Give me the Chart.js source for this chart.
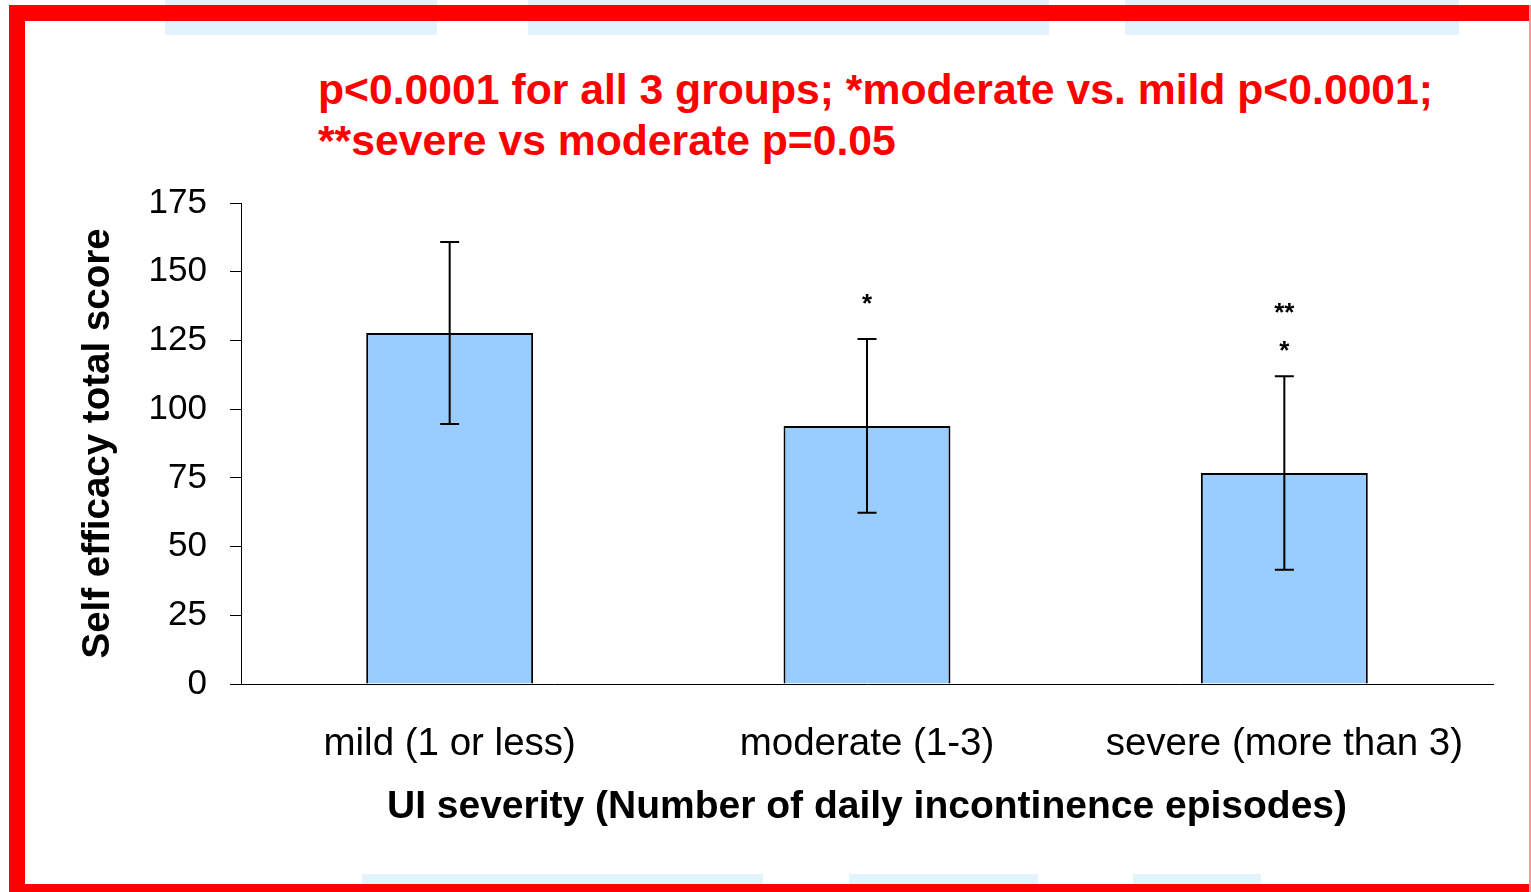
<!DOCTYPE html>
<html>
<head>
<meta charset="utf-8">
<script src="https://cdn.jsdelivr.net/npm/chart.js@4"></script>
<style>
  html, body { margin: 0; padding: 0; background: #fff; overflow: hidden; }
  body { width: 1531px; height: 892px; position: relative; }
  .deco { position: absolute; background: #e2f3fb; z-index: 0; }
  .frame { position: absolute; left: 9px; top: 5px; width: 1600px; height: 895px;
           box-sizing: border-box; border: 16px solid #ff0000; z-index: 1; }
  .edge { position: absolute; left: 1529px; top: 5px; width: 2px; height: 887px; background: #ff9999; z-index: 1; }
  .note { position: absolute; left: 318px; top: 64px; z-index: 2; color: #ff0000;
          font: bold 42.7px "Liberation Sans", Arial, sans-serif; line-height: 51px; white-space: nowrap; }
  #wrap { position: absolute; left: 0; top: 0; width: 1531px; height: 892px; z-index: 3; }
</style>
</head>
<body>
<div class="deco" style="left:165px;top:0;width:272px;height:35px;"></div>
<div class="deco" style="left:528px;top:0;width:521px;height:35px;"></div>
<div class="deco" style="left:1125px;top:0;width:334px;height:35px;"></div>
<div class="deco" style="left:362px;top:874px;width:401px;height:11px;"></div>
<div class="deco" style="left:849px;top:874px;width:189px;height:11px;"></div>
<div class="deco" style="left:1133px;top:874px;width:128px;height:11px;"></div>
<div class="frame"></div>
<div class="edge"></div>
<div class="note">p&lt;0.0001 for all 3 groups; *moderate vs. mild p&lt;0.0001;<br>**severe vs moderate p=0.05</div>
<div id="wrap"><canvas id="myChart" width="1531" height="892"></canvas></div>
<script>
const categories = ['mild (1 or less)', 'moderate (1-3)', 'severe (more than 3)'];
const meanScores = [127.7, 93.9, 76.8];
const sdScores = [33.1, 31.6, 35.2];
const yMin = 0, yMax = 175, yStep = 25;

// significance marks above the bars
const starText = ['*', '*', '**'];
const starGroup = [1, 2, 2];
const starValue = [140, 123, 137];

const font = '"Liberation Sans", Arial, sans-serif';

const errorBars = {
  id: 'errorBars',
  afterDatasetsDraw(chart) {
    const ctx = chart.ctx;
    const y = chart.scales.y;
    const meta = chart.getDatasetMeta(0);
    ctx.save();
    ctx.strokeStyle = '#000';
    ctx.lineWidth = 2;
    meta.data.forEach((bar, i) => {
      const top = y.getPixelForValue(meanScores[i] + sdScores[i]);
      const bot = y.getPixelForValue(meanScores[i] - sdScores[i]);
      ctx.beginPath();
      ctx.moveTo(bar.x, top); ctx.lineTo(bar.x, bot);
      ctx.moveTo(bar.x - 9.5, top); ctx.lineTo(bar.x + 9.5, top);
      ctx.moveTo(bar.x - 9.5, bot); ctx.lineTo(bar.x + 9.5, bot);
      ctx.stroke();
    });
    ctx.fillStyle = '#000';
    ctx.font = 'bold 26px ' + font;
    ctx.textAlign = 'center';
    ctx.textBaseline = 'middle';
    starText.forEach((t, i) => {
      const bar = meta.data[starGroup[i]];
      ctx.fillText(t, bar.x, y.getPixelForValue(starValue[i]) + 6);
    });
    ctx.restore();
  }
};

const data = {
  labels: categories,
  datasets: [{
    data: meanScores,
    backgroundColor: '#99ccff',
    borderColor: '#000',
    borderWidth: 2,
    categoryPercentage: 1,
    barPercentage: 0.4
  }]
};

const config = {
  type: 'bar',
  data: data,
  plugins: [errorBars],
  options: {
    responsive: false,
    animation: false,
    devicePixelRatio: 1,
    layout: { padding: { left: 60, right: 38, top: 203, bottom: 60 } },
    plugins: { legend: { display: false }, tooltip: { enabled: false } },
    scales: {
      x: {
        afterFit: s => { s.height = 148; },
        grid: { display: false },
        border: { color: '#000', width: 1 },
        ticks: { color: '#000', padding: 29, font: { family: font, size: 38.5 } },
        title: {
          display: true, text: 'UI severity (Number of daily incontinence episodes)', color: '#000',
          font: { family: font, size: 39, weight: 'bold' }, padding: { top: 0, bottom: 1 }
        }
      },
      y: {
        min: yMin, max: yMax,
        afterFit: s => { s.width = 181; },
        grid: { drawOnChartArea: false, drawTicks: true, tickLength: 11, color: '#000' },
        border: { color: '#000', width: 1 },
        ticks: { stepSize: yStep, color: '#000', padding: 23, font: { family: font, size: 35 } },
        title: {
          display: true, text: 'Self efficacy total score', color: '#000',
          font: { family: font, size: 38.5, weight: 'bold' }, padding: { top: 15, bottom: 0 }
        }
      }
    }
  }
};

const myChart = new Chart(document.getElementById('myChart').getContext('2d'), config);
</script>
</body>
</html>
